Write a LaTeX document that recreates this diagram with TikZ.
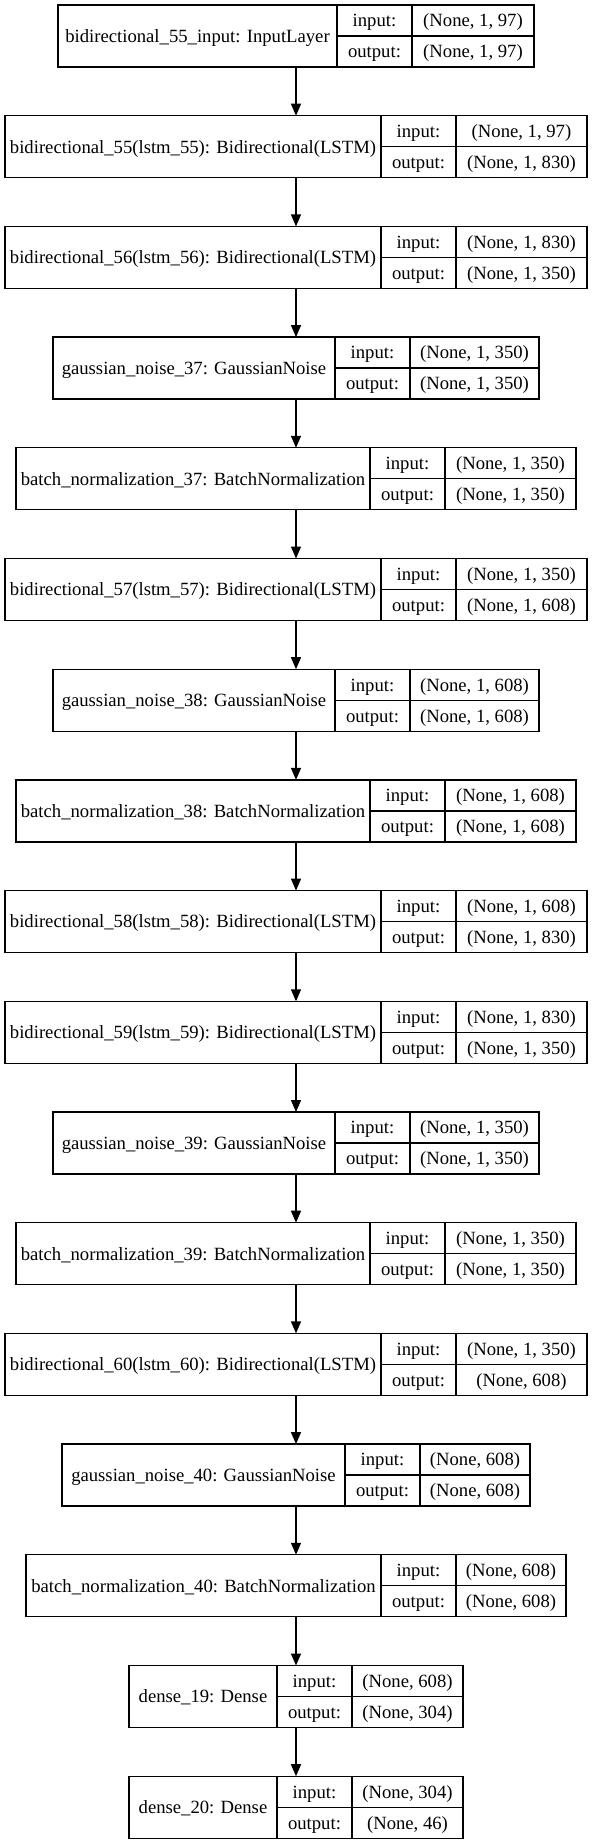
\documentclass[tikz,border=0pt]{standalone}
\usepackage{fontspec}
\setmainfont{Liberation Serif}
\usetikzlibrary{arrows.meta}
\begin{document}
\begin{tikzpicture}[x=1pt,y=1pt,line width=1.3pt,font=\fontsize{18.67}{22}\selectfont]
\tikzstyle{every node}+=[inner sep=0pt,outer sep=0pt,text height=16.6pt,text depth=4pt]
\tikzstyle{rec}=[draw,minimum height=62pt]
\tikzstyle{namecell}=[draw,minimum height=62pt,anchor=west]
\tikzstyle{labcell}=[draw,minimum width=75pt,minimum height=31pt,anchor=north west]
\tikzstyle{valcell}=[draw,minimum height=31pt,anchor=north west]
\tikzstyle{arr}=[-{Triangle[length=12pt,width=10pt]}]
\useasboundingbox (0,0) rectangle (592,-1844);
\node [rec,minimum width=476pt] (in55) at (296,-36) {};
\node [namecell,minimum width=279pt] (in55n) at (in55.west) {bidirectional\_55\_input: InputLayer};
\node [labcell] (in55i) at (in55n.north east) {input:};
\node [labcell] (in55o) at (in55i.south west) {output:};
\node [valcell,minimum width=122pt] (in55vi) at (in55i.north east) {(None, 1, 97)};
\node [valcell,minimum width=122pt] (in55vo) at (in55o.north east) {(None, 1, 97)};
\node [rec,minimum width=582pt] (bi55) at (296,-146.7) {};
\node [namecell,minimum width=376pt] (bi55n) at (bi55.west) {bidirectional\_55(lstm\_55): Bidirectional(LSTM)};
\node [labcell] (bi55i) at (bi55n.north east) {input:};
\node [labcell] (bi55o) at (bi55i.south west) {output:};
\node [valcell,minimum width=131pt] (bi55vi) at (bi55i.north east) {(None, 1, 97)};
\node [valcell,minimum width=131pt] (bi55vo) at (bi55o.north east) {(None, 1, 830)};
\node [rec,minimum width=582pt] (bi56) at (296,-257.4) {};
\node [namecell,minimum width=376pt] (bi56n) at (bi56.west) {bidirectional\_56(lstm\_56): Bidirectional(LSTM)};
\node [labcell] (bi56i) at (bi56n.north east) {input:};
\node [labcell] (bi56o) at (bi56i.south west) {output:};
\node [valcell,minimum width=131pt] (bi56vi) at (bi56i.north east) {(None, 1, 830)};
\node [valcell,minimum width=131pt] (bi56vo) at (bi56o.north east) {(None, 1, 350)};
\node [rec,minimum width=486pt] (gn37) at (296,-368.1) {};
\node [namecell,minimum width=282pt] (gn37n) at (gn37.west) {gaussian\_noise\_37: GaussianNoise};
\node [labcell] (gn37i) at (gn37n.north east) {input:};
\node [labcell] (gn37o) at (gn37i.south west) {output:};
\node [valcell,minimum width=129pt] (gn37vi) at (gn37i.north east) {(None, 1, 350)};
\node [valcell,minimum width=129pt] (gn37vo) at (gn37o.north east) {(None, 1, 350)};
\node [rec,minimum width=560pt] (bn37) at (296,-478.8) {};
\node [namecell,minimum width=354pt] (bn37n) at (bn37.west) {batch\_normalization\_37: BatchNormalization};
\node [labcell] (bn37i) at (bn37n.north east) {input:};
\node [labcell] (bn37o) at (bn37i.south west) {output:};
\node [valcell,minimum width=131pt] (bn37vi) at (bn37i.north east) {(None, 1, 350)};
\node [valcell,minimum width=131pt] (bn37vo) at (bn37o.north east) {(None, 1, 350)};
\node [rec,minimum width=582pt] (bi57) at (296,-589.5) {};
\node [namecell,minimum width=376pt] (bi57n) at (bi57.west) {bidirectional\_57(lstm\_57): Bidirectional(LSTM)};
\node [labcell] (bi57i) at (bi57n.north east) {input:};
\node [labcell] (bi57o) at (bi57i.south west) {output:};
\node [valcell,minimum width=131pt] (bi57vi) at (bi57i.north east) {(None, 1, 350)};
\node [valcell,minimum width=131pt] (bi57vo) at (bi57o.north east) {(None, 1, 608)};
\node [rec,minimum width=486pt] (gn38) at (296,-700.2) {};
\node [namecell,minimum width=282pt] (gn38n) at (gn38.west) {gaussian\_noise\_38: GaussianNoise};
\node [labcell] (gn38i) at (gn38n.north east) {input:};
\node [labcell] (gn38o) at (gn38i.south west) {output:};
\node [valcell,minimum width=129pt] (gn38vi) at (gn38i.north east) {(None, 1, 608)};
\node [valcell,minimum width=129pt] (gn38vo) at (gn38o.north east) {(None, 1, 608)};
\node [rec,minimum width=560pt] (bn38) at (296,-810.9) {};
\node [namecell,minimum width=354pt] (bn38n) at (bn38.west) {batch\_normalization\_38: BatchNormalization};
\node [labcell] (bn38i) at (bn38n.north east) {input:};
\node [labcell] (bn38o) at (bn38i.south west) {output:};
\node [valcell,minimum width=131pt] (bn38vi) at (bn38i.north east) {(None, 1, 608)};
\node [valcell,minimum width=131pt] (bn38vo) at (bn38o.north east) {(None, 1, 608)};
\node [rec,minimum width=582pt] (bi58) at (296,-921.6) {};
\node [namecell,minimum width=376pt] (bi58n) at (bi58.west) {bidirectional\_58(lstm\_58): Bidirectional(LSTM)};
\node [labcell] (bi58i) at (bi58n.north east) {input:};
\node [labcell] (bi58o) at (bi58i.south west) {output:};
\node [valcell,minimum width=131pt] (bi58vi) at (bi58i.north east) {(None, 1, 608)};
\node [valcell,minimum width=131pt] (bi58vo) at (bi58o.north east) {(None, 1, 830)};
\node [rec,minimum width=582pt] (bi59) at (296,-1032.3) {};
\node [namecell,minimum width=376pt] (bi59n) at (bi59.west) {bidirectional\_59(lstm\_59): Bidirectional(LSTM)};
\node [labcell] (bi59i) at (bi59n.north east) {input:};
\node [labcell] (bi59o) at (bi59i.south west) {output:};
\node [valcell,minimum width=131pt] (bi59vi) at (bi59i.north east) {(None, 1, 830)};
\node [valcell,minimum width=131pt] (bi59vo) at (bi59o.north east) {(None, 1, 350)};
\node [rec,minimum width=486pt] (gn39) at (296,-1143) {};
\node [namecell,minimum width=282pt] (gn39n) at (gn39.west) {gaussian\_noise\_39: GaussianNoise};
\node [labcell] (gn39i) at (gn39n.north east) {input:};
\node [labcell] (gn39o) at (gn39i.south west) {output:};
\node [valcell,minimum width=129pt] (gn39vi) at (gn39i.north east) {(None, 1, 350)};
\node [valcell,minimum width=129pt] (gn39vo) at (gn39o.north east) {(None, 1, 350)};
\node [rec,minimum width=560pt] (bn39) at (296,-1253.7) {};
\node [namecell,minimum width=354pt] (bn39n) at (bn39.west) {batch\_normalization\_39: BatchNormalization};
\node [labcell] (bn39i) at (bn39n.north east) {input:};
\node [labcell] (bn39o) at (bn39i.south west) {output:};
\node [valcell,minimum width=131pt] (bn39vi) at (bn39i.north east) {(None, 1, 350)};
\node [valcell,minimum width=131pt] (bn39vo) at (bn39o.north east) {(None, 1, 350)};
\node [rec,minimum width=582pt] (bi60) at (296,-1364.4) {};
\node [namecell,minimum width=376pt] (bi60n) at (bi60.west) {bidirectional\_60(lstm\_60): Bidirectional(LSTM)};
\node [labcell] (bi60i) at (bi60n.north east) {input:};
\node [labcell] (bi60o) at (bi60i.south west) {output:};
\node [valcell,minimum width=131pt] (bi60vi) at (bi60i.north east) {(None, 1, 350)};
\node [valcell,minimum width=131pt] (bi60vo) at (bi60o.north east) {(None, 608)};
\node [rec,minimum width=468pt] (gn40) at (296,-1475.1) {};
\node [namecell,minimum width=283pt] (gn40n) at (gn40.west) {gaussian\_noise\_40: GaussianNoise};
\node [labcell] (gn40i) at (gn40n.north east) {input:};
\node [labcell] (gn40o) at (gn40i.south west) {output:};
\node [valcell,minimum width=110pt] (gn40vi) at (gn40i.north east) {(None, 608)};
\node [valcell,minimum width=110pt] (gn40vo) at (gn40o.north east) {(None, 608)};
\node [rec,minimum width=540pt] (bn40) at (296,-1585.8) {};
\node [namecell,minimum width=355pt] (bn40n) at (bn40.west) {batch\_normalization\_40: BatchNormalization};
\node [labcell] (bn40i) at (bn40n.north east) {input:};
\node [labcell] (bn40o) at (bn40i.south west) {output:};
\node [valcell,minimum width=110pt] (bn40vi) at (bn40i.north east) {(None, 608)};
\node [valcell,minimum width=110pt] (bn40vo) at (bn40o.north east) {(None, 608)};
\node [rec,minimum width=334pt] (d19) at (296,-1696.5) {};
\node [namecell,minimum width=148pt] (d19n) at (d19.west) {dense\_19: Dense};
\node [labcell] (d19i) at (d19n.north east) {input:};
\node [labcell] (d19o) at (d19i.south west) {output:};
\node [valcell,minimum width=111pt] (d19vi) at (d19i.north east) {(None, 608)};
\node [valcell,minimum width=111pt] (d19vo) at (d19o.north east) {(None, 304)};
\node [rec,minimum width=334pt] (d20) at (296,-1807.2) {};
\node [namecell,minimum width=148pt] (d20n) at (d20.west) {dense\_20: Dense};
\node [labcell] (d20i) at (d20n.north east) {input:};
\node [labcell] (d20o) at (d20i.south west) {output:};
\node [valcell,minimum width=111pt] (d20vi) at (d20i.north east) {(None, 304)};
\node [valcell,minimum width=111pt] (d20vo) at (d20o.north east) {(None, 46)};
\draw [arr] (in55) -- (bi55);
\draw [arr] (bi55) -- (bi56);
\draw [arr] (bi56) -- (gn37);
\draw [arr] (gn37) -- (bn37);
\draw [arr] (bn37) -- (bi57);
\draw [arr] (bi57) -- (gn38);
\draw [arr] (gn38) -- (bn38);
\draw [arr] (bn38) -- (bi58);
\draw [arr] (bi58) -- (bi59);
\draw [arr] (bi59) -- (gn39);
\draw [arr] (gn39) -- (bn39);
\draw [arr] (bn39) -- (bi60);
\draw [arr] (bi60) -- (gn40);
\draw [arr] (gn40) -- (bn40);
\draw [arr] (bn40) -- (d19);
\draw [arr] (d19) -- (d20);
\end{tikzpicture}
\end{document}
